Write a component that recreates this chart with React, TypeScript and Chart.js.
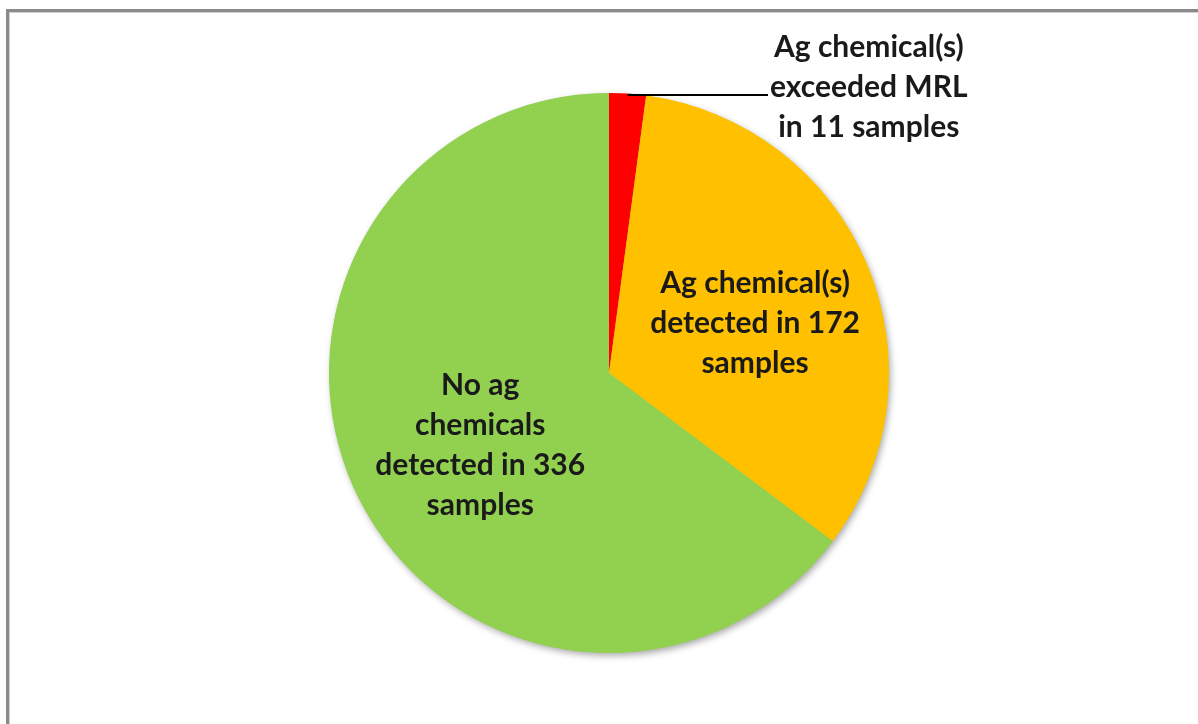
import React, { useEffect, useRef } from "react";
import { Chart, registerables } from "chart.js";

Chart.register(...registerables);

const categories: string[][] = [
  ["Ag chemical(s)", "exceeded MRL", "in 11 samples"],
  ["Ag chemical(s)", "detected in 172", "samples"],
  ["No ag", "chemicals", "detected in 336", "samples"],
];
const sampleCounts: number[] = [11, 172, 336];
const sliceColors: string[] = ["#FF0000", "#FFC000", "#92D050"];

const FONT = "bold 30px Lato, 'Open Sans', sans-serif";
const LINE_H = 40;
const labelOffsets: [number, number][] = [[0, 0], [4, 10], [9, 4]];

const shadowPlugin = {
  id: "pieShadow",
  beforeDatasetsDraw(chart: any) {
    const meta = chart.getDatasetMeta(0);
    const a = meta.data[0];
    if (!a) return;
    const ctx = chart.ctx;
    ctx.save();
    ctx.shadowColor = "rgba(0,0,0,0.35)";
    ctx.shadowBlur = 7;
    ctx.shadowOffsetX = 2;
    ctx.shadowOffsetY = 3;
    ctx.fillStyle = "#92D050";
    ctx.beginPath();
    ctx.arc(a.x, a.y, a.outerRadius - 0.5, 0, Math.PI * 2);
    ctx.fill();
    ctx.restore();
  },
};

const labelPlugin = {
  id: "sliceLabels",
  afterDatasetsDraw(chart: any) {
    const ctx = chart.ctx;
    const meta = chart.getDatasetMeta(0);
    ctx.save();
    ctx.font = FONT;
    ctx.fillStyle = "#1a1a1a";
    ctx.textAlign = "center";
    ctx.textBaseline = "middle";
    meta.data.forEach((arc: any, i: number) => {
      const lines = categories[i];
      const mid = (arc.startAngle + arc.endAngle) / 2;
      const r = arc.outerRadius;
      if (i === 0) {
        const px = arc.x + Math.cos(mid) * r;
        const py = arc.y + Math.sin(mid) * r + 1.5;
        const lineEnd = arc.x + 159;
        ctx.strokeStyle = "#000";
        ctx.lineWidth = 2;
        ctx.beginPath();
        ctx.moveTo(px, py);
        ctx.lineTo(lineEnd, py);
        ctx.stroke();
        const widths = lines.map((l: string) => ctx.measureText(l).width);
        const maxW = Math.max(...widths);
        const cx = lineEnd + 2 + maxW / 2;
        const cy = py - 8;
        lines.forEach((l: string, k: number) => {
          ctx.fillText(l, cx, cy + (k - (lines.length - 1) / 2) * LINE_H);
        });
      } else {
        const f = 0.55;
        const cx = arc.x + Math.cos(mid) * r * f + labelOffsets[i][0];
        const cy = arc.y + Math.sin(mid) * r * f + labelOffsets[i][1];
        lines.forEach((l: string, k: number) => {
          ctx.fillText(l, cx, cy + (k - (lines.length - 1) / 2) * LINE_H);
        });
      }
    });
    ctx.restore();
  },
};

export default function App() {
  const ref = useRef<HTMLCanvasElement | null>(null);
  useEffect(() => {
    if (!ref.current) return;
    const chart = new Chart(ref.current, {
      type: "pie",
      data: {
        labels: categories.map((c) => c.join(" ")),
        datasets: [
          {
            data: sampleCounts,
            backgroundColor: sliceColors,
            borderWidth: 0,
          },
        ],
      },
      options: {
        animation: false,
        responsive: false,
        maintainAspectRatio: false,
        layout: { padding: { left: 329, right: 309, top: 93, bottom: 71 } },
        plugins: {
          legend: { display: false },
          tooltip: { enabled: false },
        },
      },
      plugins: [shadowPlugin, labelPlugin],
    });
    return () => chart.destroy();
  }, []);
  return (
    <div style={{ position: "fixed", left: 0, top: 0, width: 1198, height: 724, background: "#fff" }}>
      <div
        style={{
          position: "absolute",
          left: 6,
          top: 9,
          right: 0,
          bottom: 0,
          borderLeft: "3px solid #8a8a8a",
          borderTop: "3px solid #8a8a8a",
          boxShadow: "inset 1px 1px 0 #d0d0d0",
        }}
      />
      <canvas ref={ref} width={1198} height={724} style={{ position: "absolute", left: 0, top: 0 }} />
    </div>
  );
}
